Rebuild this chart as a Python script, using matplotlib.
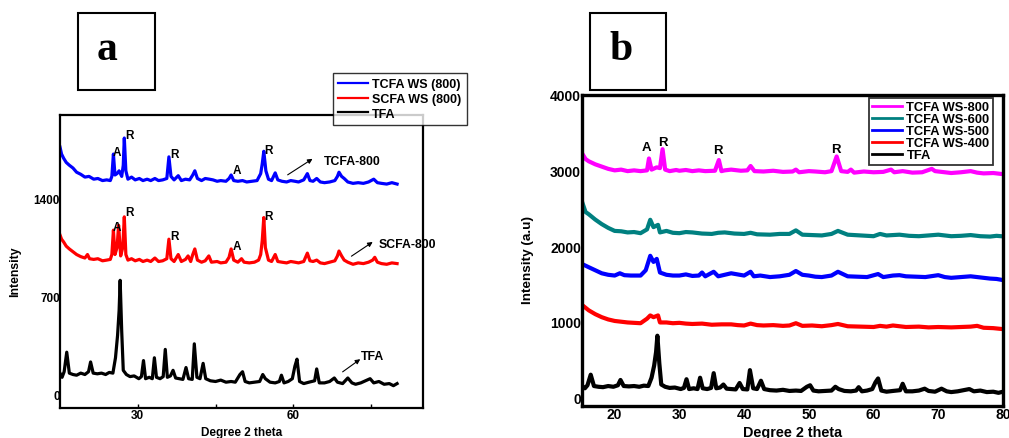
import matplotlib
matplotlib.use("Agg")
import matplotlib.pyplot as plt
from matplotlib.patches import Rectangle

plt.rcParams['font.family'] = ['Liberation Sans', 'DejaVu Sans']
plt.rcParams['font.weight'] = 'bold'

# ---------------- data ----------------
# TFA (raw fly ash), shared by both panels
tfa_x = [15.0, 15.4, 15.8, 16.3, 16.8, 17.5, 18.2, 19.0, 19.8, 20.5, 20.9, 21.4, 22.2, 23.0, 23.8,
         24.5, 25.2, 25.7, 26.1, 26.4, 26.6, 26.9, 27.2, 27.8, 28.5, 29.3, 30.2, 30.7, 31.1, 31.5,
         32.2, 32.8, 33.2, 33.6, 34.3, 34.9, 35.3, 35.7, 36.3, 36.8, 37.3, 38.0, 38.7, 39.3, 39.8,
         40.5, 40.9, 41.4, 42.0, 42.6, 43.1, 44.0, 45.0, 46.0, 47.0, 48.0, 48.8, 49.7, 50.2, 50.7,
         51.5, 52.5, 53.5, 54.1, 54.6, 55.5, 56.5, 57.3, 57.7, 58.2, 59.0, 59.8, 60.3, 60.7, 61.2,
         62.0, 63.0, 64.1, 64.5, 65.0, 66.0, 67.0, 67.9, 68.5, 69.5, 70.5, 71.3, 72.0, 73.0, 74.2,
         74.8, 75.5, 76.5, 77.5, 78.5, 79.3, 80.0]
tfa_y = [150, 120, 160, 300, 150, 140, 135, 150, 140, 160, 230, 150, 145, 150, 140,
         155, 150, 260, 420, 600, 815, 450, 170, 140, 125, 130, 110, 125, 240, 110,
         120, 110, 260, 120, 110, 125, 320, 120, 130, 170, 115, 110, 105, 190, 110,
         105, 360, 120, 110, 220, 110, 95, 90, 100, 85, 90, 85, 140, 160, 90,
         80, 85, 90, 140, 110, 85, 80, 90, 135, 80, 90, 110, 200, 250, 90,
         75, 85, 95, 180, 80, 80, 90, 115, 85, 75, 115, 80, 70, 80, 100,
         110, 80, 90, 70, 75, 60, 75]

# Panel a : TCFA WS (800)
tcfa800a_x = [15, 15.3, 15.7, 16.2, 16.8, 17.5, 18.2, 19, 19.8, 20.6, 21.5, 22.3, 23.2, 24, 24.7,
              25.0, 25.3, 25.6, 26.0, 26.4, 26.9, 27.2, 27.4, 27.7, 28.1, 28.8, 29.5, 30.3, 31,
              31.8, 32.5, 33.3, 34, 34.8, 35.6, 36.0, 36.4, 37, 37.8, 38.4, 39.2, 40, 40.6, 41,
              41.5, 42.3, 43, 43.8, 44.5, 45.3, 46, 47, 47.6, 48, 48.5, 49.3, 50.2, 51, 52, 53,
              53.7, 54.0, 54.3, 54.7, 55.2, 55.8, 56.5, 57, 57.8, 58.7, 59.5, 60.3, 61, 62, 62.7,
              63.2, 63.8, 64.5, 65.2, 66, 67, 68, 68.5, 68.8, 69.3, 69.8, 70.5, 71.5, 72.5, 73.5,
              74.5, 75.5, 76.2, 77, 78, 79, 80]
tcfa800a_y = [1770, 1720, 1690, 1660, 1640, 1620, 1590, 1575, 1555, 1560, 1540, 1545, 1530, 1535, 1530,
              1560, 1720, 1570, 1580, 1600, 1560, 1640, 1835, 1600, 1540, 1555, 1535, 1545, 1530,
              1540, 1530, 1545, 1530, 1535, 1545, 1700, 1560, 1535, 1565, 1530, 1540, 1535, 1570, 1600,
              1545, 1530, 1545, 1540, 1535, 1525, 1530, 1525, 1545, 1570, 1530, 1525, 1530, 1520, 1525, 1530,
              1580, 1650, 1740, 1600, 1540, 1530, 1585, 1535, 1525, 1520, 1530, 1525, 1520, 1535, 1580,
              1530, 1525, 1545, 1520, 1515, 1520, 1530, 1560, 1590, 1560, 1545, 1520, 1510, 1515, 1510,
              1520, 1540, 1515, 1510, 1505, 1515, 1505]

# Panel a : SCFA WS (800)
scfa800_x = [15, 15.3, 15.7, 16.2, 16.8, 17.5, 18.2, 19, 19.8, 20.3, 20.7, 21.5, 22.3, 23.2, 24, 24.7,
             25.0, 25.3, 25.6, 26.0, 26.3, 26.7, 27.1, 27.4, 27.7, 28.1, 28.8, 29.5, 30.3, 31, 31.8,
             32.5, 33.3, 34, 34.8, 35.6, 36.0, 36.4, 37, 37.8, 38.4, 39.2, 39.7, 40.2, 40.6, 41, 41.5,
             42.3, 43, 43.7, 44.2, 45.3, 46, 47, 47.6, 48, 48.5, 49.3, 50, 50.5, 51.5, 52.5, 53.3,
             53.7, 54.0, 54.3, 54.6, 55.2, 55.8, 56.5, 57, 57.8, 58.7, 59.5, 60.3, 61, 62, 62.7,
             63.2, 63.8, 64.5, 65.2, 66, 67, 68, 68.5, 68.8, 69.3, 69.8, 70.5, 71.5, 72.5, 73.5,
             74.5, 75.3, 75.7, 76.2, 77, 78, 79, 80]
scfa800_y = [1140, 1110, 1090, 1060, 1040, 1020, 1000, 985, 975, 1000, 970, 965, 970, 955, 960, 965,
             1000, 1175, 1000, 1050, 1210, 990, 1050, 1270, 1000, 960, 970, 955, 965, 950, 960,
             950, 975, 950, 955, 970, 1110, 970, 950, 1000, 950, 965, 990, 950, 1000, 1040, 960,
             945, 955, 990, 945, 950, 940, 945, 980, 1040, 960, 945, 970, 945, 940, 945, 960,
             1000, 1100, 1265, 1050, 960, 950, 1000, 950, 945, 940, 950, 945, 940, 950, 1010,
             955, 950, 960, 940, 935, 945, 955, 990, 1025, 990, 960, 945, 930, 940, 935,
             945, 960, 980, 945, 935, 930, 940, 935]

# Panel b : TCFA WS-800
ws800_x = [15, 15.5, 16, 17, 18, 19, 20, 21, 22, 23, 24, 25, 25.3, 25.7, 26.5, 27, 27.4, 27.8, 28.5,
           29.5, 30, 31, 32, 33, 34, 35.5, 36.1, 36.5, 37, 38, 39.5, 40.5, 41, 41.6, 43, 44.5, 46,
           47.5, 48, 48.5, 50, 51, 52.5, 53.5, 54.3, 55, 56, 56.5, 57, 58.5, 60, 61.5, 62.7, 63.2,
           64.5, 66, 67.5, 69, 69.5, 71, 72, 73.5, 75, 76, 77, 78.5, 80]
ws800_y = [3220, 3150, 3120, 3080, 3050, 3020, 3000, 3010, 2990, 3000, 2990, 3000, 3157, 3010, 3040, 3030,
           3280, 3010, 2990, 3005, 2995, 3005, 2990, 3000, 2990, 2995, 3137, 2990, 3000, 3010, 2995, 3000,
           3058, 2990, 2985, 2995, 2980, 2985, 3010, 2975, 2990, 2985, 2975, 2990, 3184, 2990, 2980, 3010,
           2970, 2985, 2975, 2980, 3010, 2975, 2990, 2970, 2975, 3020, 2990, 2975, 2965, 2975, 2990, 2970,
           2960, 2965, 2950]

# Panel b : TCFA WS-600
ws600_x = [15, 15.5, 16, 17, 18, 19, 20, 21, 22, 23, 24, 25, 25.5, 26, 26.7, 27, 28, 29, 30, 31, 32,
           33.5, 35, 36, 37, 38.5, 40, 41, 42, 44, 45.5, 47, 48, 49, 50.5, 52, 53.5, 54.5, 56, 58, 60,
           61, 62, 63, 64, 65.5, 67, 68.5, 70, 71, 72, 73.5, 75, 76.5, 78, 79, 80]
ws600_y = [2575, 2450, 2420, 2350, 2290, 2240, 2200, 2195, 2180, 2185, 2170, 2220, 2347, 2250, 2280, 2180,
           2200, 2175, 2170, 2185, 2180, 2165, 2160, 2175, 2180, 2165, 2160, 2175, 2155, 2150, 2160, 2160,
           2207, 2150, 2145, 2140, 2160, 2200, 2150, 2140, 2130, 2160, 2140, 2145, 2150, 2135, 2130, 2140,
           2150, 2140, 2130, 2135, 2145, 2130, 2125, 2135, 2128]

# Panel b : TCFA WS-500
ws500_x = [15, 16, 17, 18, 19, 20, 20.8, 21.5, 22.5, 24, 24.8, 25.5, 26, 26.5, 27, 28, 29, 30, 31, 32,
           33, 33.5, 34, 35.3, 36, 37, 38, 39, 40, 41, 41.5, 42.5, 44, 45.5, 47, 48, 49, 50, 51, 52,
           53.5, 54.5, 56, 57.5, 59, 60.7, 61.5, 63, 64, 65, 66.5, 68, 70, 71, 72, 73.5, 75, 76.5,
           78, 79, 80]
ws500_y = [1761, 1720, 1680, 1640, 1620, 1610, 1640, 1615, 1610, 1610, 1680, 1871, 1790, 1830, 1650, 1620,
           1610, 1610, 1625, 1605, 1610, 1650, 1600, 1660, 1600, 1620, 1640, 1625, 1610, 1660, 1600, 1610,
           1590, 1600, 1620, 1670, 1620, 1610, 1595, 1590, 1610, 1660, 1600, 1595, 1590, 1630, 1590, 1610,
           1615, 1600, 1595, 1590, 1615, 1590, 1580, 1590, 1600, 1585, 1570, 1565, 1550]

# Panel b : TCFA WS-400
ws400_x = [15, 16, 17, 18, 19, 20, 21, 22, 23, 24, 25, 25.5, 26, 26.7, 27, 28, 29, 30, 31, 32, 33.5,
           35, 36.5, 38, 39, 40, 41, 42, 43, 44.5, 46, 47, 48, 49, 50.5, 52, 53.5, 54.5, 56, 58, 60,
           61, 62, 63, 64, 65, 67, 68.5, 70, 72, 73.5, 75, 76, 77, 78.5, 80]
ws400_y = [1219, 1150, 1100, 1060, 1030, 1010, 1000, 990, 985, 980, 1040, 1083, 1060, 1083, 990, 990,
           980, 985, 975, 970, 975, 960, 965, 965, 955, 950, 975, 955, 950, 955, 945, 950,
           980, 945, 950, 940, 955, 970, 940, 935, 930, 945, 935, 950, 940, 930, 935, 925,
           930, 925, 930, 935, 945, 920, 915, 902]

# labels / markers
legend_a = ['TCFA WS (800)', 'SCFA WS (800)', 'TFA']
legend_b = ['TCFA WS-800', 'TCFA WS-600', 'TCFA WS-500', 'TCFA WS-400', 'TFA']
peak_a_x = [26.0, 28.4, 37.0, 49.2, 55.3]
peak_a_txt = ['A', 'R', 'R', 'A', 'R']
peak_a_top_y = [1738, 1857, 1723, 1607, 1750]
peak_a_mid_y = [1195, 1305, 1131, 1059, 1273]
peak_b_x = [24.9, 27.5, 35.9, 54.2]
peak_b_y = [3303, 3377, 3271, 3280]
peak_b_txt = ['A', 'R', 'R', 'R']

# ---------------- figure ----------------
W, H = 1009, 439
fig = plt.figure(figsize=(W / 100, H / 100), dpi=100)


def fx(px):
    return px / W


def fy(py):
    return 1 - py / H


LWA = 2.3
LWB = 3.0

# Panel a
axa = fig.add_axes([fx(60), fy(409), fx(423) - fx(60), fy(116) - fy(409)])
la1, = axa.plot(tcfa800a_x, tcfa800a_y, color='#0000ff', lw=LWA)
la2, = axa.plot(scfa800_x, scfa800_y, color='#ff0000', lw=LWA)
la3, = axa.plot(tfa_x, tfa_y, color='black', lw=LWA)
axa.set_xlim(15, 85)
axa.set_ylim(-100, 2000)
axa.set_xticks([30, 60])
axa.set_xticks([45, 75], minor=True)
axa.set_yticks([0, 700, 1400])
axa.tick_params(axis='both', which='both', direction='in', length=3, width=1, labelsize=8.5, pad=1)
axa.tick_params(axis='y', length=0, pad=0)
for lab in axa.get_xticklabels() + axa.get_yticklabels():
    lab.set_fontweight('bold')
for s in axa.spines.values():
    s.set_linewidth(1.6)
axa.set_xlabel('Degree 2 theta', fontsize=8.5, fontweight='bold', va='center')
axa.xaxis.set_label_coords(0.5, -0.082)
axa.set_ylabel('Intensity', fontsize=8.8, fontweight='bold', va='center')
axa.yaxis.set_label_coords(-0.124, 0.468)

for x, t, y in zip(peak_a_x, peak_a_txt, peak_a_top_y):
    axa.text(x, y, t, ha='center', va='center', fontsize=8.5, fontweight='bold')
for x, t, y in zip(peak_a_x, peak_a_txt, peak_a_mid_y):
    axa.text(x, y, t, ha='center', va='center', fontsize=8.5, fontweight='bold')

arrow = dict(arrowstyle='-|>', lw=0.8, color='black', mutation_scale=7, shrinkA=0, shrinkB=0)
axa.annotate('', xy=(63.7, 1686), xytext=(58.9, 1571), arrowprops=arrow)
axa.text(65.9, 1671, 'TCFA-800', ha='left', va='center', fontsize=8.8, fontweight='bold')
axa.annotate('', xy=(75.3, 1090), xytext=(71.2, 988), arrowprops=arrow)
axa.text(76.5, 1079, 'SCFA-800', ha='left', va='center', fontsize=8.8, fontweight='bold')
axa.annotate('', xy=(72.9, 250), xytext=(69.5, 159), arrowprops=arrow)
axa.text(73.0, 273, 'TFA', ha='left', va='center', fontsize=8.8, fontweight='bold')

leg_a = axa.legend([la1, la2, la3], legend_a, loc='upper left',
                   bbox_to_anchor=(fx(333), fy(74)), bbox_transform=fig.transFigure,
                   fontsize=9, frameon=True, fancybox=False, handlelength=2.4,
                   handletextpad=0.3, labelspacing=0.22, borderpad=0.42, borderaxespad=0)
leg_a.get_frame().set_edgecolor('black')
leg_a.get_frame().set_linewidth(1.0)
for t in leg_a.get_texts():
    t.set_fontweight('bold')
for h in leg_a.legend_handles:
    h.set_linewidth(1.6)

# Panel b
axb = fig.add_axes([fx(582.3), fy(406.7), fx(1003) - fx(582.3), fy(95.7) - fy(406.7)])
lb1, = axb.plot(ws800_x, ws800_y, color='#ff00ff', lw=LWB)
lb2, = axb.plot(ws600_x, ws600_y, color='#008080', lw=LWB)
lb3, = axb.plot(ws500_x, ws500_y, color='#0000ff', lw=LWB)
lb4, = axb.plot(ws400_x, ws400_y, color='#ff0000', lw=LWB)
lb5, = axb.plot(tfa_x, tfa_y, color='black', lw=LWB)
axb.set_xlim(15, 80)
axb.set_ylim(-110, 4000)
axb.set_xticks([20, 30, 40, 50, 60, 70, 80])
axb.set_yticks([0, 1000, 2000, 3000, 4000])
axb.tick_params(axis='both', which='both', direction='in', length=0, labelsize=10, pad=1)
for lab in axb.get_xticklabels() + axb.get_yticklabels():
    lab.set_fontweight('bold')
for s in axb.spines.values():
    s.set_linewidth(2.4)
axb.set_xlabel('Degree 2 theta', fontsize=10.4, fontweight='bold', va='center')
axb.xaxis.set_label_coords(0.5, -0.085)
axb.set_ylabel('Intensity (a.u)', fontsize=9.7, fontweight='bold', va='center')
axb.yaxis.set_label_coords(-0.129, 0.472)
for x, y, t in zip(peak_b_x, peak_b_y, peak_b_txt):
    axb.text(x, y, t, ha='center', va='center', fontsize=9.5, fontweight='bold')

leg_b = axb.legend([lb1, lb2, lb3, lb4, lb5], legend_b, loc='upper left',
                   bbox_to_anchor=(fx(869), fy(99)), bbox_transform=fig.transFigure,
                   fontsize=9.3, frameon=True, fancybox=False, handlelength=2.3,
                   handletextpad=0.35, labelspacing=0.0, borderpad=0.25, borderaxespad=0)
leg_b.get_frame().set_edgecolor('black')
leg_b.get_frame().set_linewidth(1.3)
for t in leg_b.get_texts():
    t.set_fontweight('bold')
for h in leg_b.legend_handles:
    h.set_linewidth(2.0)

# Panel letter boxes
for (x0, x1, letter, cx) in [(78, 155, 'a', 107.5), (590, 666, 'b', 621)]:
    fig.add_artist(Rectangle((fx(x0), fy(91)), fx(x1) - fx(x0), fy(14) - fy(91),
                             transform=fig.transFigure, fill=False, edgecolor='black', lw=1.5))
    fig.text(fx(cx), fy(60), letter, ha='center', va='baseline', fontsize=30,
             fontweight='bold', family=['Liberation Serif', 'DejaVu Serif'])

fig.savefig('out.png', dpi=100)
